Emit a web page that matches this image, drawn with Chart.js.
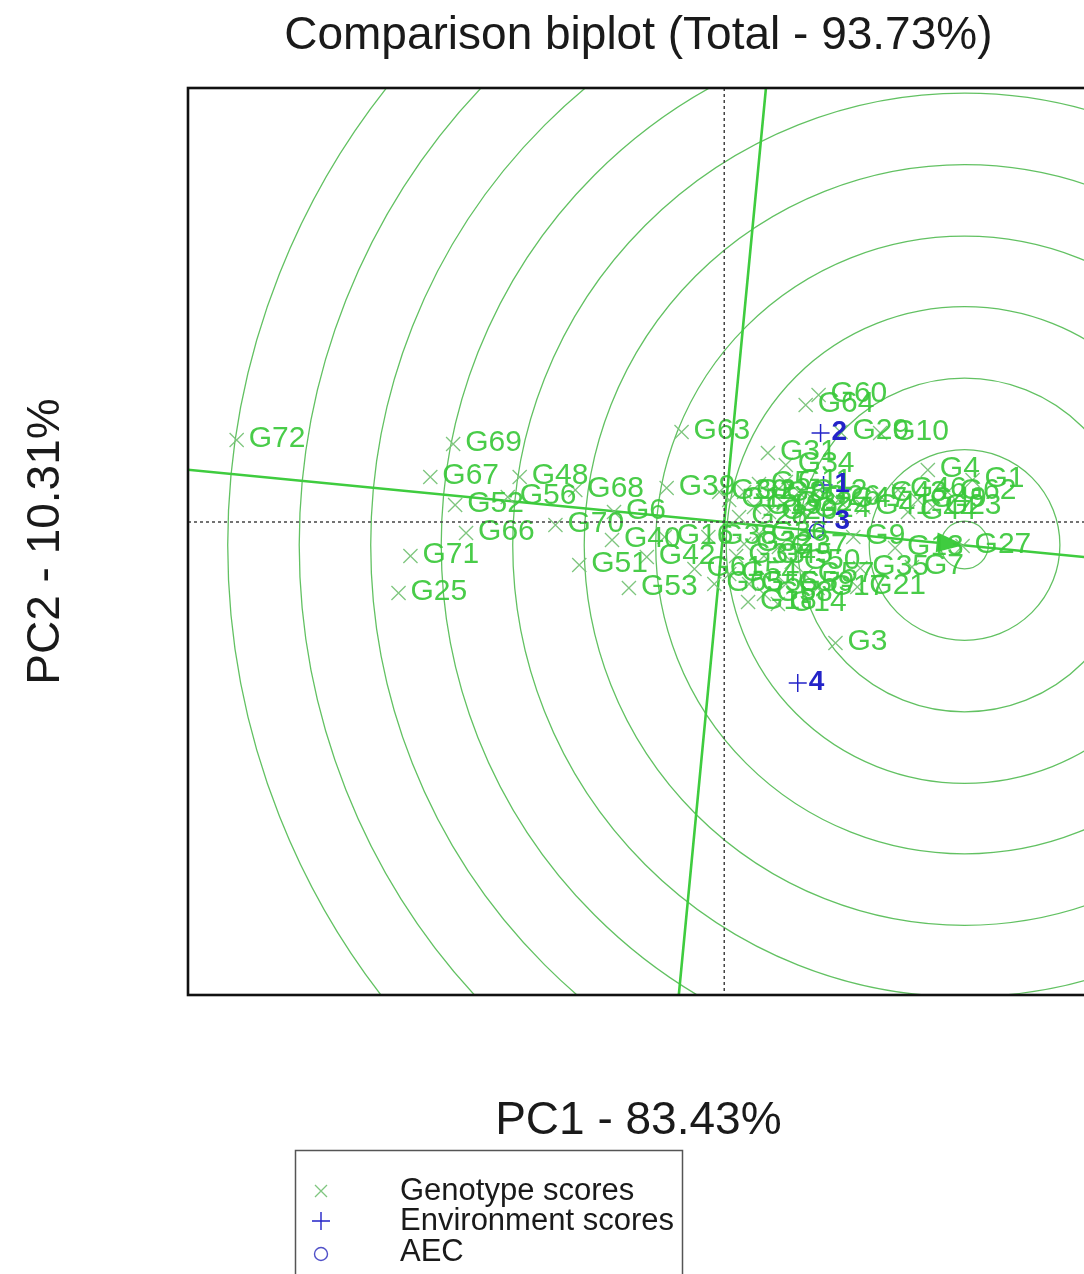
<!DOCTYPE html>
<html><head><meta charset="utf-8">
<script src="https://cdn.jsdelivr.net/npm/chart.js@4/dist/chart.umd.min.js"></script>
<style>html,body{margin:0;padding:0;background:#fff;overflow:hidden;width:1084px;height:1274px}canvas{display:block}</style>
</head><body>
<canvas id="c" width="1100" height="1274"></canvas>
<script>
// ---- data ----
const genotypeLabels = ['G72','G69','G67','G48','G52','G56','G68','G66','G70','G6','G71','G25','G40','G51','G53','G42','G63','G39','G60','G64','G29','G10','G31','G34','G4','G1','G27','G7','G35','G21','G17','G57','G14','G18','G3','G45','G38','G16','G33','G9','G13',
  'G2','G5','G8','G11','G12','G15','G19','G20','G22','G24','G26','G28','G30',
  'G43','G46','G49','G23','G62','G44','G41','G47',
  'G32','G36','G37','G50','G54','G55','G58','G59','G61','G65'];
const genotypePC1 = [-4.91,-2.73,-2.96,-2.06,-2.71,-2.18,-1.50,-2.60,-1.70,-1.11,-3.16,-3.28,-1.13,-1.46,-0.96,-0.78,-0.43,-0.58,0.95,0.82,1.17,1.57,0.44,0.62,2.05,2.50,2.40,1.89,1.37,1.34,0.94,0.82,0.54,0.24,1.12,0.40,-0.16,-0.60,0.12,1.30,1.72,
  0.20,0.35,0.50,0.62,0.75,0.05,0.30,0.45,0.60,0.78,0.88,0.15,-0.05,
  1.55,1.75,1.95,2.10,2.25,1.85,1.40,1.15,
  0.20,0.35,0.55,0.68,0.05,0.25,0.40,0.62,-0.30,-0.10];
const genotypePC2 = [0.82,0.78,0.45,0.45,0.17,0.25,0.32,-0.11,-0.03,0.10,-0.34,-0.71,-0.18,-0.43,-0.66,-0.35,0.90,0.34,1.27,1.17,0.90,0.89,0.69,0.57,0.52,0.42,-0.24,-0.45,-0.46,-0.65,-0.66,-0.53,-0.82,-0.80,-1.21,-0.34,-0.15,-0.15,-0.34,-0.15,-0.26,
  0.30,0.38,0.28,0.40,0.30,0.22,0.15,0.10,0.18,0.12,0.24,0.05,0.30,
  0.28,0.32,0.22,0.15,0.30,0.10,0.15,0.22,
  -0.22,-0.12,-0.25,-0.40,-0.52,-0.62,-0.72,-0.62,-0.47,-0.62];
const envLabels = ['1','2','3','4'];
const envPC1 = [1.00,0.97,1.00,0.74];
const envPC2 = [0.37,0.89,0.00,-1.61];
const aecPoint = [0.93,-0.09];
const idealPoint = [2.42,-0.23];
const ringRadii = [0.24,0.96,1.68,2.40,3.11,3.83,4.55,5.27,5.98,6.70,7.42];
const xRange = [-5.40,3.67];
const yRange = [-4.73,4.34];
const chartTitle = 'Comparison biplot (Total - 93.73%)';
const xTitle = 'PC1 - 83.43%';
const yTitle = 'PC2 - 10.31%';
const legendLabels = ['Genotype scores','Environment scores','AEC'];

const FONT = '"Liberation Sans", Arial, Helvetica, sans-serif';
const GREEN_TXT = 'rgba(58,200,58,0.92)';
const GREEN_MK = 'rgba(120,195,120,0.95)';
const BLUE = '#2323c8';

const geometry = {
  id: 'geometry',
  beforeDatasetsDraw(chart) {
    const {ctx, chartArea: a, scales: {x, y}} = chart;
    ctx.save();
    ctx.beginPath(); ctx.rect(a.left, a.top, a.right - a.left, a.bottom - a.top); ctx.clip();
    const cx = x.getPixelForValue(idealPoint[0]), cy = y.getPixelForValue(idealPoint[1]);
    ctx.strokeStyle = 'rgba(90,190,90,0.95)'; ctx.lineWidth = 1.3;
    ringRadii.forEach(r => {
      const rp = x.getPixelForValue(idealPoint[0] + r) - cx;
      ctx.beginPath(); ctx.arc(cx, cy, rp, 0, Math.PI * 2); ctx.stroke();
    });
    const [ax, ay] = aecPoint; const k = 60;
    ctx.strokeStyle = '#3fcc3f'; ctx.lineWidth = 2.6;
    ctx.beginPath();
    ctx.moveTo(x.getPixelForValue(-k * ax), y.getPixelForValue(-k * ay));
    ctx.lineTo(x.getPixelForValue(k * ax), y.getPixelForValue(k * ay));
    ctx.moveTo(x.getPixelForValue(k * ay), y.getPixelForValue(-k * ax));
    ctx.lineTo(x.getPixelForValue(-k * ay), y.getPixelForValue(k * ax));
    ctx.stroke();
    const ox = x.getPixelForValue(0), oy = y.getPixelForValue(0);
    const ang = Math.atan2(cy - oy, cx - ox);
    ctx.fillStyle = '#3fcc3f';
    ctx.beginPath();
    ctx.moveTo(cx, cy);
    ctx.lineTo(cx - 28 * Math.cos(ang) + 10 * Math.sin(ang), cy - 28 * Math.sin(ang) - 10 * Math.cos(ang));
    ctx.lineTo(cx - 28 * Math.cos(ang) - 10 * Math.sin(ang), cy - 28 * Math.sin(ang) + 10 * Math.cos(ang));
    ctx.closePath(); ctx.fill();
    ctx.restore();
  },
  afterDatasetsDraw(chart) {
    const {ctx, chartArea: a, scales: {x, y}} = chart;
    ctx.save();
    ctx.textBaseline = 'middle'; ctx.textAlign = 'left';
    ctx.font = '30px ' + FONT; ctx.fillStyle = GREEN_TXT;
    genotypeLabels.forEach((t, i) => {
      ctx.fillText(t, x.getPixelForValue(genotypePC1[i]) + 12, y.getPixelForValue(genotypePC2[i]) - 1);
    });
    ctx.font = 'bold 28px ' + FONT; ctx.fillStyle = BLUE;
    envLabels.forEach((t, i) => {
      ctx.fillText(t, x.getPixelForValue(envPC1[i]) + 11, y.getPixelForValue(envPC2[i]) - 1);
    });
    const ox = x.getPixelForValue(0), oy = y.getPixelForValue(0);
    ctx.setLineDash([3, 3]); ctx.strokeStyle = '#444'; ctx.lineWidth = 1.5;
    ctx.beginPath();
    ctx.moveTo(a.left, oy); ctx.lineTo(a.right, oy);
    ctx.moveTo(ox, a.top); ctx.lineTo(ox, a.bottom);
    ctx.stroke(); ctx.setLineDash([]);
    ctx.strokeStyle = '#111'; ctx.lineWidth = 2.6;
    ctx.strokeRect(a.left, a.top, a.right - a.left, a.bottom - a.top);
    ctx.restore();
  },
  afterDraw(chart) {
    const {ctx, chartArea: a} = chart;
    const mid = (a.left + a.right) / 2;
    ctx.save();
    ctx.fillStyle = '#1a1a1a';
    ctx.font = '46px ' + FONT; ctx.textAlign = 'center'; ctx.textBaseline = 'middle';
    ctx.fillText(chartTitle, mid, 36);
    ctx.fillText(xTitle, mid, 1121);
    ctx.save(); ctx.translate(46, (a.top + a.bottom) / 2); ctx.rotate(-Math.PI / 2);
    ctx.fillText(yTitle, 0, 0); ctx.restore();
    ctx.strokeStyle = '#555'; ctx.lineWidth = 1.5;
    ctx.strokeRect(295.5, 1150.5, 387, 160);
    ctx.font = '31px ' + FONT; ctx.textAlign = 'left';
    const rows = [1191, 1221, 1252];
    legendLabels.forEach((t, i) => ctx.fillText(t, 400, rows[i]));
    ctx.strokeStyle = GREEN_MK; ctx.lineWidth = 1.3;
    ctx.beginPath(); ctx.moveTo(315, rows[0] - 6); ctx.lineTo(327, rows[0] + 6); ctx.moveTo(327, rows[0] - 6); ctx.lineTo(315, rows[0] + 6); ctx.stroke();
    ctx.strokeStyle = BLUE; ctx.lineWidth = 1.4;
    ctx.beginPath(); ctx.moveTo(312, rows[1]); ctx.lineTo(330, rows[1]); ctx.moveTo(321, rows[1] - 9); ctx.lineTo(321, rows[1] + 9); ctx.stroke();
    ctx.strokeStyle = '#5050c8'; ctx.lineWidth = 1.4;
    ctx.beginPath(); ctx.arc(321, rows[2] + 2, 6.5, 0, Math.PI * 2); ctx.stroke();
    ctx.restore();
  }
};

new Chart(document.getElementById('c'), {
  type: 'scatter',
  data: {
    datasets: [
      {label: 'Genotype scores', data: genotypePC1.map((v, i) => ({x: v, y: genotypePC2[i]})),
       pointStyle: 'crossRot', pointRadius: 10, borderColor: GREEN_MK, borderWidth: 1.3, backgroundColor: 'transparent'},
      {label: 'Environment scores', data: envPC1.map((v, i) => ({x: v, y: envPC2[i]})),
       pointStyle: 'cross', pointRadius: 9, borderColor: BLUE, borderWidth: 1.5, backgroundColor: 'transparent'},
      {label: 'AEC', data: [{x: aecPoint[0], y: aecPoint[1]}],
       pointStyle: 'circle', pointRadius: 7, borderColor: '#3030c8', borderWidth: 1.6, backgroundColor: 'transparent'}
    ]
  },
  options: {
    responsive: false, animation: false, devicePixelRatio: 1,
    events: [],
    layout: {padding: {left: 188, top: 88, right: 5, bottom: 279}},
    plugins: {legend: {display: false}, title: {display: false}, tooltip: {enabled: false}},
    scales: {
      x: {type: 'linear', min: xRange[0], max: xRange[1], display: false},
      y: {type: 'linear', min: yRange[0], max: yRange[1], display: false}
    }
  },
  plugins: [geometry]
});
</script></body></html>
